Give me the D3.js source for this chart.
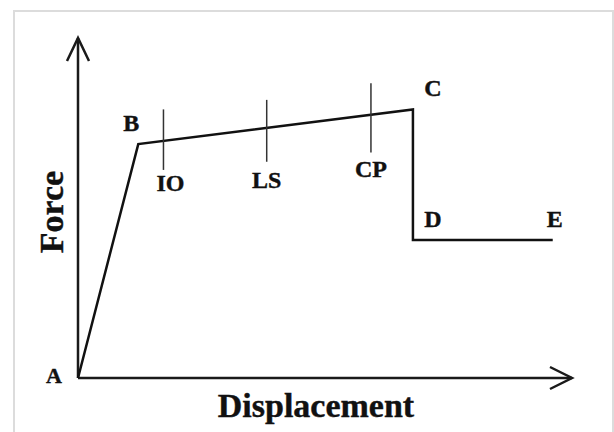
<!DOCTYPE html>
<html>
<head>
  <meta charset="utf-8">
  <title>Force - Displacement</title>
  <script src="https://d3js.org/d3.v7.min.js"></script>
  <style>
    body { margin: 0; background: #fff; }
    text { font-family: "Liberation Serif", "Times New Roman", serif; font-weight: bold; fill: #111; stroke: #111; stroke-width: 0.4px; }
  </style>
</head>
<body>
  <svg id="chart"></svg>

  <script>
    // curve points (x = displacement, y = force)
    let pointNames = ["A", "B", "C", "D", "E"];
    let dispValues = [0, 1.22, 6.78, 6.78, 9.61];
    let forceValues = [0, 6.88, 7.90, 4.06, 4.06];

    // performance level markers on the B-C segment
    let levelNames = ["IO", "LS", "CP"];
    let levelDisp = [1.73, 3.82, 5.93];
    let levelTop = [7.90, 8.18, 8.67];
    let levelBottom = [6.12, 6.36, 6.63];

    let width = 614, height = 432;

    let svg = d3.select("#chart")
      .attr("width", width)
      .attr("height", height);

    // light frame around the figure
    svg.append("rect")
      .attr("x", 14).attr("y", 11)
      .attr("width", 599).attr("height", 440)
      .attr("fill", "none")
      .attr("stroke", "#dcdcdc")
      .attr("stroke-width", 2);

    let x = d3.scaleLinear().domain([0, 10]).range([78, 572]);
    let y = d3.scaleLinear().domain([0, 10]).range([378, 38]);

    // axes with open arrow heads
    svg.append("line")
      .attr("x1", x(0)).attr("y1", y(0))
      .attr("x2", x(10)).attr("y2", y(0))
      .attr("stroke", "#1a1a1a").attr("stroke-width", 2.5);
    svg.append("line")
      .attr("x1", x(0)).attr("y1", y(0))
      .attr("x2", x(0)).attr("y2", y(10))
      .attr("stroke", "#1a1a1a").attr("stroke-width", 2.5);

    svg.append("path")
      .attr("d", "M" + (x(10) - 22) + "," + (y(0) - 11) + "L" + x(10) + "," + y(0) + "L" + (x(10) - 22) + "," + (y(0) + 11))
      .attr("fill", "none").attr("stroke", "#1a1a1a").attr("stroke-width", 2.5);
    svg.append("path")
      .attr("d", "M" + (x(0) - 11) + "," + (y(10) + 23) + "L" + x(0) + "," + y(10) + "L" + (x(0) + 11) + "," + (y(10) + 23))
      .attr("fill", "none").attr("stroke", "#1a1a1a").attr("stroke-width", 2.5);

    // force-displacement curve
    let pts = pointNames.map(function(n, i) { return [dispValues[i], forceValues[i]]; });
    let line = d3.line()
      .x(function(d) { return x(d[0]); })
      .y(function(d) { return y(d[1]); });

    svg.append("path")
      .datum(pts)
      .attr("d", line)
      .attr("fill", "none")
      .attr("stroke", "#111")
      .attr("stroke-width", 2.5)
      .attr("stroke-linejoin", "miter");

    // level ticks
    svg.selectAll(".level")
      .data(levelNames)
      .enter()
      .append("line")
      .attr("class", "level")
      .attr("x1", function(d, i) { return x(levelDisp[i]); })
      .attr("x2", function(d, i) { return x(levelDisp[i]); })
      .attr("y1", function(d, i) { return y(levelTop[i]); })
      .attr("y2", function(d, i) { return y(levelBottom[i]); })
      .attr("stroke", "#333")
      .attr("stroke-width", 1.5);

    // level labels under the ticks
    let levelDy = [21, 26, 24];
    svg.selectAll(".level-label")
      .data(levelNames)
      .enter()
      .append("text")
      .attr("class", "level-label")
      .attr("x", function(d, i) { return x(levelDisp[i]) + (i == 0 ? 7 : 0); })
      .attr("y", function(d, i) { return y(levelBottom[i]) + levelDy[i]; })
      .attr("text-anchor", "middle")
      .style("font-size", "24px")
      .text(function(d) { return d; });

    // point labels
    let labelOffset = {
      A: [-24, 5],
      B: [-7, -13],
      C: [20, -13],
      D: [20, -13],
      E: [2, -13]
    };
    svg.selectAll(".pt-label")
      .data(pointNames)
      .enter()
      .append("text")
      .attr("class", "pt-label")
      .attr("x", function(d, i) { return x(dispValues[i]) + labelOffset[d][0]; })
      .attr("y", function(d, i) { return y(forceValues[i]) + labelOffset[d][1]; })
      .attr("text-anchor", "middle")
      .style("font-size", function(d) { return d == "A" ? "22px" : "24px"; })
      .text(function(d) { return d; });

    // axis titles
    svg.append("text")
      .attr("x", 316)
      .attr("y", 417)
      .attr("text-anchor", "middle")
      .style("font-size", "34px")
      .text("Displacement");

    svg.append("text")
      .attr("transform", "translate(63,212) rotate(-90)")
      .attr("text-anchor", "middle")
      .style("font-size", "34px")
      .text("Force");
  </script>
</body>
</html>
